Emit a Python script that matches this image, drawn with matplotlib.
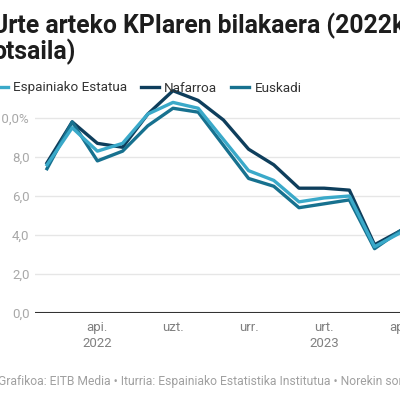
import matplotlib
matplotlib.use("Agg")
import matplotlib.pyplot as plt

plt.rcParams['font.family'] = ['Roboto', 'DejaVu Sans']

# hilabeteak: 2022ko otsaila - 2023ko apirila
months = list(range(15))
espainia = [7.6, 9.5, 8.3, 8.7, 10.2, 10.8, 10.5, 8.9, 7.3, 6.8, 5.7, 5.9, 6.0, 3.4, 4.1]
nafarroa = [7.7, 9.8, 8.7, 8.5, 10.2, 11.4, 10.9, 9.9, 8.4, 7.6, 6.4, 6.4, 6.3, 3.5, 4.2]
euskadi = [7.4, 9.8, 7.8, 8.3, 9.6, 10.5, 10.3, 8.6, 6.9, 6.5, 5.4, 5.6, 5.8, 3.3, 4.2]

tick_pos = [2, 5, 8, 11, 14]
tick_labels = ["api.\n2022", "uzt.", "urr.", "urt.\n2023", "api."]
y_ticks = [0, 2, 4, 6, 8, 10]
y_labels = ["0,0", "2,0", "4,0", "6,0", "8,0", "10,0%"]

fig = plt.figure(figsize=(4, 4), dpi=100)
fig.patch.set_facecolor("white")
# axes runs past the right edge of the picture, like the cropped original
ax = fig.add_axes([35/400, 0.2175, 425/400, 0.585])

ax.plot(months, nafarroa, color="#0e3e5c", lw=2.4, label="Nafarroa", zorder=3)
ax.plot(months, euskadi, color="#17718f", lw=2.4, label="Euskadi", zorder=4)
ax.plot(months, espainia, color="#3aa9c9", lw=2.4, label="Espainiako Estatua", zorder=5)

ax.set_xlim(-0.476, 16.39)
ax.set_ylim(0, 12)
ax.set_yticks(y_ticks)
ax.set_yticklabels(y_labels)
ax.set_xticks(tick_pos)
ax.set_xticklabels(tick_labels)
ax.tick_params(axis="y", length=0, pad=4, labelsize=9.5, labelcolor="#a8a8a8")
ax.tick_params(axis="x", length=0, pad=6, labelsize=9.5, labelcolor="#808080")
for t in ax.get_xticklabels():
    t.set_linespacing(1.3)

ax.grid(axis="y", color="#e6e6e6", lw=1)
ax.set_axisbelow(True)
for s in ax.spines.values():
    s.set_visible(False)
ax.axhline(0, color="#333333", lw=1.5, zorder=2)

fig.text(-0.02, 1 - 33/400, "Urte arteko KPIaren bilakaera (2022ko otsaila - 2023ko",
         fontsize=17.8, fontweight="bold", color="#1d1d1d", va="baseline")
fig.text(-0.02, 1 - 59/400, "otsaila)",
         fontsize=17.8, fontweight="bold", color="#1d1d1d", va="baseline")

h, l = ax.get_legend_handles_labels()
order = [2, 0, 1]
fig.legend([h[i] for i in order], [l[i] for i in order], loc="center left",
           bbox_to_anchor=(-0.055, 1 - 88/400), ncol=3, frameon=False,
           fontsize=9.7, handlelength=1.3, handletextpad=0.4, columnspacing=1.05,
           labelcolor="#333333")

fig.text(-0.005, 1 - 382/400,
         "Grafikoa: EITB Media \u2022 Iturria: Espainiako Estatistika Institutua \u2022 Norekin sortua: Datawrapper",
         fontsize=8.7, color="#a0a0a0", va="center")

fig.savefig("out.png", dpi=100)
